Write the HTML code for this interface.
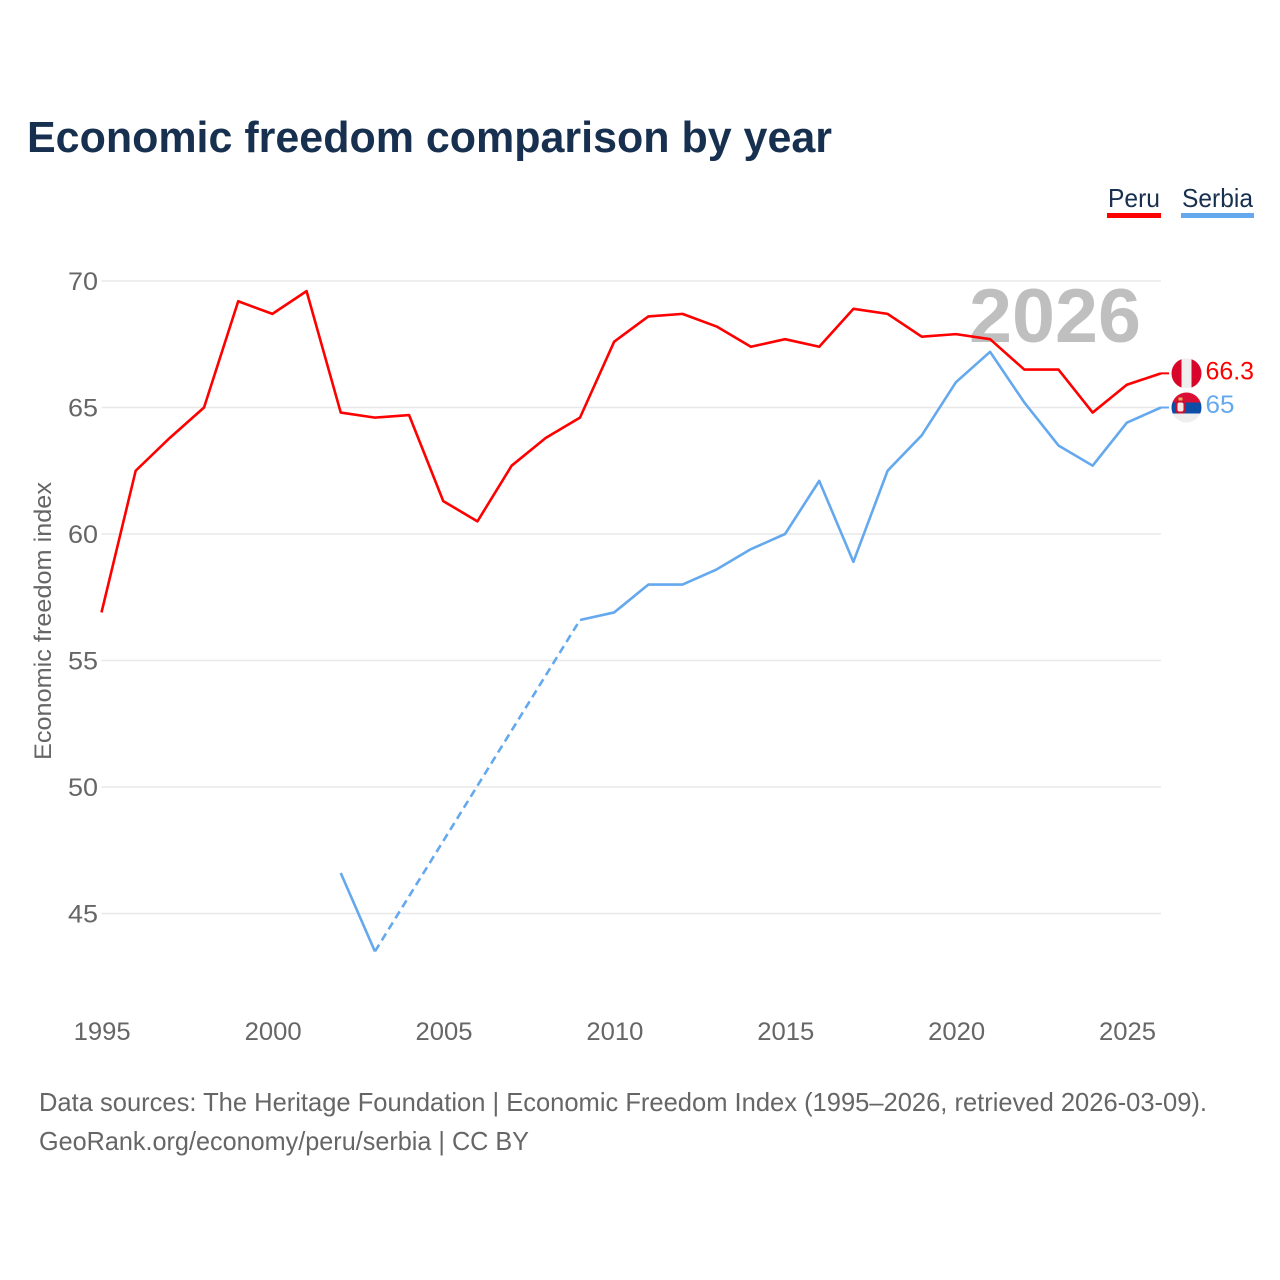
<!DOCTYPE html>
<html lang="en">
<head>
<meta charset="utf-8">
<title>Economic freedom comparison by year</title>
<style>
html,body{margin:0;padding:0;background:#fff;}
svg{display:block;font-family:"Liberation Sans",sans-serif;}
</style>
</head>
<body>
<svg id="chart" width="1280" height="1280" viewBox="0 0 1280 1280" xmlns="http://www.w3.org/2000/svg">
  <rect width="1280" height="1280" fill="#ffffff"/>
  <text x="27" y="152" font-size="44" font-weight="700" fill="#18304f" textLength="805" lengthAdjust="spacingAndGlyphs">Economic freedom comparison by year</text>
  <g id="gridlines"></g>
  <text x="1141" y="342" font-size="76" font-weight="700" fill="#bfbfbf" text-anchor="end" textLength="172" lengthAdjust="spacingAndGlyphs">2026</text>
  <g id="series"></g>
  <g id="x-axis"></g>
  <g id="y-axis"></g>
  <text transform="translate(51,621) rotate(-90)" font-size="24" fill="#666666" text-anchor="middle" textLength="278" lengthAdjust="spacingAndGlyphs">Economic freedom index</text>

  <g>
    <text x="1108" y="207" font-size="26" fill="#18304f" textLength="52" lengthAdjust="spacingAndGlyphs">Peru</text>
    <rect x="1107" y="213" width="54" height="5" fill="#ff0000"/>
  </g>
  <g>
    <text x="1182" y="207" font-size="26" fill="#18304f" textLength="71" lengthAdjust="spacingAndGlyphs">Serbia</text>
    <rect x="1181" y="213" width="73" height="5" fill="#64a8ee"/>
  </g>

  <defs>
    <clipPath id="flag-clip"><circle cx="0" cy="0" r="15"/></clipPath>
  </defs>
  <g id="flag-peru" clip-path="url(#flag-clip)">
    <rect x="-15" y="-15" width="30" height="30" fill="#eeeeee"/>
    <rect x="-15" y="-15" width="10" height="30" fill="#d90429"/>
    <rect x="5" y="-15" width="10" height="30" fill="#d90429"/>
  </g>
  <g id="flag-serbia" clip-path="url(#flag-clip)">
    <rect x="-15" y="-15" width="30" height="10" fill="#d90f36"/>
    <rect x="-15" y="-5" width="30" height="11" fill="#0c4da8"/>
    <rect x="-15" y="6" width="30" height="9" fill="#eeeeee"/>
    <rect x="-11" y="-7" width="10" height="13" rx="3" fill="#c8102e"/>
    <rect x="-9" y="-5" width="6" height="9" rx="2" fill="#f5e9e6"/>
    <rect x="-8" y="-10" width="4" height="3" fill="#e0b060"/>
  </g>

  <text x="39" y="1111" font-size="26" fill="#666666" textLength="1168" lengthAdjust="spacingAndGlyphs">Data sources: The Heritage Foundation | Economic Freedom Index (1995–2026, retrieved 2026-03-09).</text>
  <text x="39" y="1150" font-size="26" fill="#666666" textLength="490" lengthAdjust="spacingAndGlyphs">GeoRank.org/economy/peru/serbia | CC BY</text>
</svg>
<script>
const years = [1995,1996,1997,1998,1999,2000,2001,2002,2003,2004,2005,2006,2007,2008,2009,2010,2011,2012,2013,2014,2015,2016,2017,2018,2019,2020,2021,2022,2023,2024,2025,2026];
const peruValues = [56.9,62.5,63.8,65.0,69.2,68.7,69.6,64.8,64.6,64.7,61.3,60.5,62.7,63.8,64.6,67.6,68.6,68.7,68.2,67.4,67.7,67.4,68.9,68.7,67.8,67.9,67.7,66.5,66.5,64.8,65.9,66.35];
const serbiaValues = [null,null,null,null,null,null,null,46.6,43.5,null,null,null,null,null,56.6,56.9,58.0,58.0,58.6,59.4,60.0,62.1,58.9,62.5,63.9,66.0,67.2,65.2,63.5,62.7,64.4,65.0];
const xTickYears = [1995,2000,2005,2010,2015,2020,2025];
const yTickValues = [45,50,55,60,65,70];
const peruEndLabel = "66.3";
const serbiaEndLabel = "65";

const NS = "http://www.w3.org/2000/svg";
function xScale(year){ return 101.5 + (year - 1995) * (1161 - 101.5) / 31; }
function yScale(v){ return 281 + (70 - v) * (913.5 - 281) / 25; }
function make(tag, attrs, parent){
  const el = document.createElementNS(NS, tag);
  for (const k in attrs) el.setAttribute(k, attrs[k]);
  parent.appendChild(el);
  return el;
}

const grid = document.getElementById("gridlines");
const yAxis = document.getElementById("y-axis");
const xAxis = document.getElementById("x-axis");
const seriesGroup = document.getElementById("series");
const chart = document.getElementById("chart");

yTickValues.forEach(function(v){
  const line = make("line", {x1:101.5, x2:1161, y1:yScale(v), y2:yScale(v), stroke:"#e8e8e8", "stroke-width":1.5}, grid);
  
  
  const t = make("text", {x:98, y:yScale(v)+9, "font-size":25, fill:"#666666", "text-anchor":"end", textLength:30, lengthAdjust:"spacingAndGlyphs"}, yAxis);
  
  
  t.textContent = v;
});

xTickYears.forEach(function(y){
  const t = make("text", {x:xScale(y)+0.7, y:1040, "font-size":25, fill:"#666666", "text-anchor":"middle", textLength:57, lengthAdjust:"spacingAndGlyphs"}, xAxis);
  
  
  t.textContent = y;
});

function drawSeries(values, color, name){
  let solid = "";
  let dashed = "";
  let last = null;
  let penDown = false;
  values.forEach(function(v, i){
    if (v === null) { penDown = false; return; }
    const px = xScale(years[i]).toFixed(2);
    const py = yScale(v).toFixed(2);
    if (last !== null && last.i < i - 1) {
      dashed += "M" + last.px + " " + last.py + "L" + px + " " + py;
    }
    solid += (penDown ? "L" : "M") + px + " " + py;
    penDown = true;
    last = {i:i, px:px, py:py};
  });
  const a = make("path", {d:solid, fill:"none", stroke:color, "stroke-width":2.6, "stroke-linejoin":"round"}, seriesGroup);
  
  
  if (dashed) {
    const b = make("path", {d:dashed, fill:"none", stroke:color, "stroke-width":2.6, "stroke-dasharray":"8 5"}, seriesGroup);
    
    
  }
  const endX = xScale(years[years.length - 1]);
  const endY = yScale(values[values.length - 1]);
  const connector = make("line", {x1:endX, x2:endX + 8, y1:endY, y2:endY, stroke:color, "stroke-width":2}, seriesGroup);
  
  
}
drawSeries(peruValues, "#ff0000", "peru");
drawSeries(serbiaValues, "#64a8ee", "serbia");

const lastYear = years[years.length - 1];
const flagX = xScale(lastYear) + 25.5;
const peruLast = peruValues[peruValues.length - 1];
const serbiaLast = serbiaValues[serbiaValues.length - 1];
document.getElementById("flag-peru").setAttribute("transform", "translate(" + flagX + "," + yScale(peruLast) + ")");
document.getElementById("flag-serbia").setAttribute("transform", "translate(" + flagX + "," + yScale(serbiaLast) + ")");

const peruLabel = make("text", {x:flagX+19, y:yScale(peruLast)+6, "font-size":25, fill:"#ff0000", textLength:48.5, lengthAdjust:"spacingAndGlyphs"}, chart);


peruLabel.textContent = peruEndLabel;
const serbiaLabel = make("text", {x:flagX+19, y:yScale(serbiaLast)+5.5, "font-size":25, fill:"#64a8ee", textLength:29, lengthAdjust:"spacingAndGlyphs"}, chart);


serbiaLabel.textContent = serbiaEndLabel;
</script>
</body>
</html>
